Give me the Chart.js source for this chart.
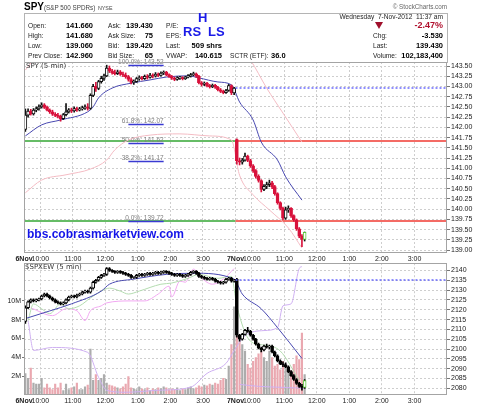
<!DOCTYPE html>
<html>
<head>
<meta charset="utf-8">
<script src="https://cdn.jsdelivr.net/npm/chart.js@4.4.1/dist/chart.umd.min.js"></script>
<style>
body{margin:0;background:#fff;font-family:"Liberation Sans",Arial,sans-serif;}
#wrap{position:relative;width:480px;height:406px;overflow:hidden;background:#fff}
#wrap canvas{position:absolute;left:0}
.t{position:absolute;white-space:nowrap;line-height:10px;font-size:6.6px;color:#222}
.v{position:absolute;white-space:nowrap;line-height:10px;font-size:7.5px;font-weight:bold;color:#000;text-align:right}
.big{position:absolute;white-space:nowrap;line-height:13px;font-size:13px;font-weight:bold;color:#1a1ae8}
.box{position:absolute;left:24px;top:13px;width:422px;height:49px;border:1px solid #b4b4b4;border-bottom:none}
.pan{position:absolute;font-family:"DejaVu Sans",sans-serif;font-size:7px;line-height:10px;color:#333}
</style>
</head>
<body>
<div id="wrap">
  <canvas id="spyChart" width="480" height="264" style="top:0"></canvas>
  <canvas id="ewChart" width="480" height="148" style="top:258px"></canvas>

  <div class="box"></div>
  <div class="t" style="left:24px;top:1.5px;font-size:10px;font-weight:bold;color:#000">SPY</div>
  <div class="t" style="left:44px;top:2.6px;font-size:6.3px;color:#444">(S&amp;P 500 SPDRs)</div>
  <div class="t" style="left:98px;top:3.2px;font-size:5.3px;color:#444">NYSE</div>
  <div class="t" style="right:33px;top:2.3px;font-size:6.3px;color:#666">© StockCharts.com</div>

  <div class="t" style="left:28px;top:21px">Open:</div>
  <div class="t" style="left:28px;top:31px">High:</div>
  <div class="t" style="left:28px;top:41px">Low:</div>
  <div class="t" style="left:28px;top:51px">Prev Close:</div>
  <div class="v" style="right:387px;top:21px">141.660</div>
  <div class="v" style="right:387px;top:31px">141.680</div>
  <div class="v" style="right:387px;top:41px">139.060</div>
  <div class="v" style="right:387px;top:51px">142.960</div>

  <div class="t" style="left:108px;top:21px">Ask:</div>
  <div class="t" style="left:108px;top:31px">Ask Size:</div>
  <div class="t" style="left:108px;top:41px">Bid:</div>
  <div class="t" style="left:108px;top:51px">Bid Size:</div>
  <div class="v" style="right:327px;top:21px">139.430</div>
  <div class="v" style="right:327px;top:31px">75</div>
  <div class="v" style="right:327px;top:41px">139.420</div>
  <div class="v" style="right:327px;top:51px">65</div>

  <div class="t" style="left:166px;top:21px">P/E:</div>
  <div class="t" style="left:166px;top:31px">EPS:</div>
  <div class="t" style="left:166px;top:41px">Last:</div>
  <div class="t" style="left:166px;top:51px">VWAP:</div>
  <div class="v" style="right:258px;top:41px">509 shrs</div>
  <div class="v" style="right:258px;top:51px">140.615</div>
  <div class="t" style="left:230px;top:51px">SCTR (ETF):</div>
  <div class="v" style="left:271px;top:51px;text-align:left">36.0</div>

  <div class="big" style="left:198px;top:11.3px">H</div>
  <div class="big" style="left:183px;top:25.3px">RS</div>
  <div class="big" style="left:208px;top:25.3px">LS</div>

  <div class="t" style="right:37px;top:12px">Wednesday&nbsp; 7-Nov-2012&nbsp; 11:37 am</div>
  <div style="position:absolute;left:375px;top:22px;width:0;height:0;border-left:4px solid transparent;border-right:4px solid transparent;border-top:7px solid #a0102c"></div>
  <div class="v" style="right:37px;top:20.4px;font-size:9px;color:#b0102e">-2.47%</div>
  <div class="t" style="left:373px;top:31px">Chg:</div>
  <div class="t" style="left:373px;top:41px">Last:</div>
  <div class="t" style="left:373px;top:51px">Volume:</div>
  <div class="v" style="right:37px;top:31px">-3.530</div>
  <div class="v" style="right:37px;top:41px">139.430</div>
  <div class="v" style="right:37px;top:51px">102,183,400</div>

  <div class="pan" style="left:26px;top:61px">SPY (5 min)</div>
  <div class="pan" style="left:25px;top:261.5px">$SPXEW (5 min)</div>
  <div style="position:absolute;left:27px;top:228px;font-size:12px;line-height:12px;font-weight:bold;color:#1414e8">bbs.cobrasmarketview.com</div>
</div>

<script>
// 5-min bars: 6 Nov (78 bars, 9:30-16:00) then 7 Nov up to 11:35
const spyOpen = [
  141.95,142.30,142.40,142.33,142.42,142.45,142.50,142.55,142.49,142.42,142.38,142.32,142.29,
  142.27,142.21,142.31,142.38,142.43,142.40,142.46,142.42,142.45,142.48,142.50,142.46,142.78,
  143.00,142.95,143.12,143.20,143.26,143.45,143.38,143.34,143.31,143.36,143.30,143.28,143.24,
  143.17,143.10,143.12,143.19,143.22,143.19,143.25,143.22,143.28,143.25,143.30,143.27,143.33,
  143.35,143.29,143.24,143.20,143.17,143.21,143.22,143.19,143.23,143.26,143.29,143.31,143.25,
  143.09,143.05,143.08,143.02,142.99,143.03,142.98,142.92,142.88,142.85,142.90,143.02,142.84,
  141.70,141.18,141.15,141.20,141.30,141.19,141.06,140.94,140.80,140.70,140.48,140.56,140.60,
  140.64,140.55,140.38,140.16,140.02,139.78,139.98,140.02,139.84,139.74,139.52,139.34,139.26
];
const spyHigh = [
  142.45,142.45,142.44,142.46,142.50,142.55,142.60,142.58,142.52,142.45,142.42,142.36,142.34,
  142.30,142.34,142.58,142.46,142.47,142.50,142.49,142.49,142.52,142.55,142.58,142.82,143.05,
  143.10,143.15,143.25,143.30,143.52,143.50,143.42,143.40,143.40,143.39,143.35,143.33,143.27,
  143.21,143.16,143.22,143.26,143.25,143.28,143.29,143.32,143.31,143.34,143.33,143.36,143.38,
  143.37,143.31,143.27,143.23,143.24,143.25,143.24,143.25,143.29,143.32,143.35,143.33,143.27,
  143.12,143.11,143.10,143.05,143.06,143.05,143.00,142.95,142.91,142.93,143.05,143.04,142.98,
  141.72,141.25,141.24,141.37,141.32,141.22,141.09,140.97,140.84,140.72,140.60,140.66,140.71,
  140.68,140.58,140.40,140.18,140.05,140.05,140.08,140.04,139.86,139.76,139.55,139.38,139.44
];
const spyLow = [
  141.90,142.25,142.30,142.30,142.38,142.42,142.47,142.46,142.40,142.34,142.29,142.26,142.23,
  142.15,142.19,142.28,142.35,142.36,142.37,142.39,142.40,142.42,142.44,142.42,142.44,142.75,
  142.88,142.92,143.08,143.15,143.24,143.34,143.30,143.28,143.29,143.27,143.24,143.20,143.13,
  143.06,143.05,143.10,143.15,143.16,143.17,143.18,143.20,143.21,143.23,143.24,143.25,143.29,
  143.26,143.22,143.17,143.14,143.15,143.17,143.16,143.17,143.21,143.23,143.26,143.22,143.06,
  143.01,143.02,142.99,142.96,142.97,142.95,142.89,142.85,142.82,142.83,142.88,142.80,142.80,
  141.10,141.08,141.10,141.17,141.16,141.02,140.90,140.76,140.66,140.42,140.45,140.50,140.55,
  140.50,140.34,140.12,139.98,139.74,139.75,139.92,139.80,139.70,139.48,139.30,139.08,139.22
];
const spyClose = [
  142.30,142.40,142.33,142.42,142.45,142.50,142.55,142.49,142.42,142.38,142.32,142.29,142.27,
  142.21,142.31,142.38,142.43,142.40,142.46,142.42,142.45,142.48,142.50,142.46,142.78,143.00,
  142.95,143.12,143.20,143.26,143.45,143.38,143.34,143.31,143.36,143.30,143.28,143.24,143.17,
  143.10,143.12,143.19,143.22,143.19,143.25,143.22,143.28,143.25,143.30,143.27,143.33,143.35,
  143.29,143.24,143.20,143.17,143.21,143.22,143.19,143.23,143.26,143.29,143.31,143.25,143.09,
  143.05,143.08,143.02,142.99,143.03,142.98,142.92,142.88,142.85,142.90,143.02,142.84,142.96,
  141.18,141.15,141.20,141.30,141.19,141.06,140.94,140.80,140.70,140.48,140.56,140.60,140.64,
  140.55,140.38,140.16,140.02,139.78,139.98,140.02,139.84,139.74,139.52,139.34,139.26,139.43
];
// SPY volume, millions of shares per bar
const spyVolM = [
  2.3,1.8,2.9,1.3,1.2,1.2,1.8,0.8,1.2,0.8,0.6,1.2,0.8,
  1.3,0.5,1.2,0.6,0.8,0.9,1.3,0.6,0.6,0.9,1.1,4.9,1.6,
  2.2,1.6,1.8,2.2,1.3,1.1,1.0,0.9,0.8,0.7,0.9,1.2,2.0,
  0.8,0.7,0.6,0.9,0.7,0.6,0.8,0.5,0.7,0.6,0.8,0.7,0.9,
  0.8,0.6,0.7,0.6,0.8,0.5,0.7,0.6,0.8,0.9,0.7,0.8,1.0,
  0.9,1.1,1.0,1.2,1.1,1.3,1.2,1.6,1.8,1.7,3.1,5.4,9.4,
  6.3,5.7,5.4,4.7,3.3,2.9,3.6,4.0,4.4,4.7,4.0,3.6,4.7,
  4.0,3.1,3.3,2.7,3.6,3.3,3.0,2.6,3.3,4.2,3.8,6.6,2.2
];

// $SPXEW 5-min bars
const ewOpen = [
  2114,2121,2124,2125,2124.5,2125,2125.5,2127,2128,2127,2126,2125,2124,
  2123.5,2123,2123.5,2125,2126.5,2127,2126.5,2127.5,2128,2129,2129.5,2129,2131,
  2134,2135,2136.5,2137.5,2138,2141,2140,2139.5,2139,2139.5,2139,2138.5,2138,
  2137.5,2136.5,2136.5,2137.5,2138,2137.5,2138,2138.5,2138,2138.5,2139,2138.5,2139,
  2139.5,2139,2138.5,2138,2137.5,2138,2137.5,2137,2137.5,2138,2139,2139.5,2138.5,
  2137,2136.5,2136,2135.5,2136,2135.5,2134.5,2134,2133.5,2134,2135.5,2136,2134.5,
  2135.5,2107,2105,2107.5,2109.5,2109,2107,2105,2102.5,2100.5,2099.5,2101.5,2101,
  2101.5,2098.5,2096.5,2094,2092.5,2092,2091,2088.5,2086.5,2084.5,2082.5,2081,2080.5
];
const ewHigh = [
  2122,2124.5,2125.5,2125.5,2125.5,2126,2127.5,2128.5,2128.5,2127.5,2126.5,2125.5,2124.5,
  2124,2124,2125.5,2127,2127.5,2127.5,2128,2128.5,2129.5,2130,2130,2131.5,2134.5,
  2135.5,2137,2138,2138.5,2141.5,2141.5,2140.5,2140,2140,2140,2139.5,2139,2138.5,
  2138,2137,2138,2138.5,2138.5,2138.5,2139,2139,2139,2139.5,2139.5,2139.5,2140,
  2140,2139.5,2139,2138.5,2138.5,2138.5,2138,2138,2138.5,2139.5,2140,2140,2139,
  2137.5,2137,2136.5,2136.5,2136.5,2136,2135,2134.5,2134.5,2136,2136.5,2136.5,2135.5,
  2136,2107.5,2108,2110,2111,2109.5,2107.5,2105.5,2103,2101,2102,2102.5,2102,
  2102,2099,2097,2094.5,2093.5,2093,2091.5,2089,2087,2085,2083,2082,2084.5
];
const ewLow = [
  2113,2120.5,2123.5,2124,2124,2124.5,2125,2126.5,2126.5,2125.5,2124.5,2123.5,2123,
  2122.5,2122.5,2123,2124.5,2126,2126,2126,2127,2127.5,2128.5,2128.5,2128.5,2130.5,
  2133.5,2134.5,2136,2137,2137.5,2139.5,2139,2138.5,2138.5,2138.5,2138,2137.5,2137,
  2136,2136,2136,2137,2137,2137,2137.5,2137.5,2137.5,2138,2138,2138,2138.5,
  2138.5,2138,2137.5,2137,2137,2137,2136.5,2136.5,2137,2137.5,2138.5,2138,2136.5,
  2136,2135.5,2135,2135,2135,2134,2133.5,2133,2133,2133.5,2135,2134,2134,
  2106,2104,2104.5,2107,2108.5,2106.5,2104.5,2102,2100,2098.5,2099,2100.5,2100,
  2098,2096,2093.5,2092,2091,2090.5,2088,2086,2084,2082,2080.5,2079,2080
];
const ewClose = [
  2121,2124,2125,2124.5,2125,2125.5,2127,2128,2127,2126,2125,2124,2123.5,
  2123,2123.5,2125,2126.5,2127,2126.5,2127.5,2128,2129,2129.5,2129,2131,2134,
  2135,2136.5,2137.5,2138,2141,2140,2139.5,2139,2139.5,2139,2138.5,2138,2137.5,
  2136.5,2136.5,2137.5,2138,2137.5,2138,2138.5,2138,2138.5,2139,2138.5,2139,2139.5,
  2139,2138.5,2138,2137.5,2138,2137.5,2137,2137.5,2138,2139,2139.5,2138.5,2137,
  2136.5,2136,2135.5,2136,2135.5,2134.5,2134,2133.5,2134,2135.5,2136,2134.5,2135,
  2107,2105,2107.5,2109.5,2109,2107,2105,2102.5,2100.5,2099.5,2101.5,2101,2101.5,
  2098.5,2096.5,2094,2092.5,2092,2091,2088.5,2086.5,2084.5,2082.5,2081,2080.5,2084
];

// overlay lines: bar index -> value
const spyMaAt = [0,6,13,23,25,27,32,39,46,52,60,64,71,76,79,84,87,93,96,102];
const spyMa = [141.79,142.06,142.18,142.38,142.50,142.72,142.96,143.08,143.16,143.23,143.26,143.21,143.11,143.04,142.62,142.18,141.64,141.20,140.79,140.22];
const spyLowerAt = [0,6,15,24,30,33,38,46,57,68,76,79,84,90,97,102];
const spyLower = [140.40,140.71,140.84,140.98,141.20,141.45,141.69,141.81,141.84,141.79,141.69,140.83,140.35,139.98,139.54,139.05];
const spyUpperAt = [0,3,4,80,83,89,95,102];
const spyUpper = [143.40,143.65,null,143.90,143.65,142.96,142.35,141.64];

const ewMaAt = [0,9,17,28,31,40,52,62,77,80,87,93,102];
const ewMa = [2115.5,2119.4,2123,2129.5,2133,2135.6,2138,2138.6,2135.6,2128,2120.5,2110.9,2095.2];
const ewGreenAt = [1,3,6,9,13,16,20,24,28,31,35,38,42,50,54,60,64,71,76,78,83,88,94,101];
const ewGreen = [2114.5,2123,2120.5,2118,2123,2120.5,2122,2126,2129.5,2131,2129.5,2128,2129.5,2133,2133.6,2136,2138,2136,2137,2122,2104,2102,2099,2084];
const ewMagAt = [2,10,15,19,22,24,28,30,39,44,49,53,54,57,59,62,65,69,73,77];
const ewMag = [2121,2117,2120.5,2119.5,2114.5,2119.5,2122,2123.5,2124.5,2124.5,2128,2132,2126.5,2134.6,2134,2140.7,2136.1,2133,2135.6,2141];
const ewVioAt = [1,3,10,23,27,30,37,49,61,67,74,77,81,88,93,95,98,101,102];
const ewVio = [2114.5,2099.3,2100.8,2098.3,2085.6,2079,2078,2079,2080.6,2087.6,2092.7,2099.2,2106.8,2109.4,2110.9,2122,2123,2141,2142];
const ewLavAt = [79,86,95,103];
const ewLav = [2082,2081,2080.5,2080];

// levels and tick labels
const fibPct = ['100.0%','61.8%','50.0%','38.2%','0.0%'];
const fibLevels = [143.52, 142.07, 141.62, 141.17, 139.72];
const lineLevels = [141.67, 139.72];
const spyPrevClose = 142.96;
const ewPrevClose = 2135;
const spyTicks = [139.00,139.25,139.50,139.75,140.00,140.25,140.50,140.75,141.00,141.25,141.50,141.75,142.00,142.25,142.50,142.75,143.00,143.25,143.50];
const ewTicks = [2080,2085,2090,2095,2100,2105,2110,2115,2120,2125,2130,2135,2140];
const volTicks = [2,4,6,8,10];
const dayNames = ['6Nov','7Nov'];
const hourLabels = ['10:00','11:00','12:00','1:00','2:00','3:00'];
const hourMinutes = [30,90,150,210,270,330];   // minutes after the 9:30 open

const FONT = '"Liberation Sans", Arial, sans-serif';
const BARS = 78;
const RED = '#d8123c';
const GRID = '#cecece';
Chart.defaults.font.family = FONT;
Chart.defaults.font.size = 7;

function barPos(day, minutes){ return day * BARS + minutes / 5 - 0.5; }
const xTicks = [];
dayNames.forEach((d, k) => {
  xTicks.push({value: barPos(k, 0), label: d, bold: true});
  hourLabels.forEach((h, j) => xTicks.push({value: barPos(k, hourMinutes[j]), label: h, bold: false}));
});

function timeAxis(){
  return {
    type: 'linear', min: -0.5, max: 2 * BARS - 0.5, offset: false,
    afterBuildTicks: s => { s.ticks = xTicks.map(t => ({value: t.value})); },
    afterFit: s => { s.height = 11; },
    ticks: {
      autoSkip: false, maxRotation: 0, minRotation: 0, padding: 2, color: '#222',
      callback: (v, i) => xTicks[i] ? xTicks[i].label : '',
      font: c => ({family: FONT, size: 7, weight: (xTicks[c.index] && xTicks[c.index].bold) ? 'bold' : 'normal'})
    },
    grid: { color: GRID, drawTicks: false, offset: false },
    border: { display: false, dash: [2, 2] }
  };
}

function priceAxis(min, max, ticks, digits){
  return {
    position: 'right', min: min, max: max,
    afterBuildTicks: s => { s.ticks = ticks.map(v => ({value: v})); },
    afterFit: s => { s.width = 33; },
    ticks: { autoSkip: false, callback: v => v.toFixed(digits), color: '#222', padding: 1, font: {family: FONT, size: 7} },
    grid: { color: GRID, tickLength: 3, tickColor: '#777' },
    border: { display: false, dash: [2, 2] }
  };
}

function candles(o, h, l, c, down, up){
  const last = c.length - 1;
  const isUp = i => c[i] >= o[i];
  return [
    { type: 'bar', yAxisID: 'y', order: 1, grouped: false, barThickness: 3, minBarLength: 1,
      borderSkipped: false, borderWidth: 1,
      data: c.map((v, i) => ({x: i, y: [o[i], v]})),
      backgroundColor: ctx => isUp(ctx.dataIndex) ? '#ffffff' : down,
      borderColor: ctx => ctx.dataIndex === last ? '#5cc838' : (isUp(ctx.dataIndex) ? up : down) },
    { type: 'bar', yAxisID: 'y', order: 2, grouped: false, barThickness: 1, borderWidth: 0,
      data: c.map((v, i) => ({x: i, y: [l[i], h[i]]})),
      backgroundColor: ctx => isUp(ctx.dataIndex) ? up : down }
  ];
}

function line(at, vals, color, order){
  return { type: 'line', yAxisID: 'y', order: order || 3, data: at.map((x, k) => ({x: x, y: vals[k]})),
    borderColor: color, borderWidth: 1, pointRadius: 0, cubicInterpolationMode: 'monotone', spanGaps: false };
}

function hline(ctx, x0, x1, y){
  ctx.beginPath(); ctx.moveTo(x0, y); ctx.lineTo(x1, y); ctx.stroke();
}

const frame = {
  id: 'frame',
  afterDatasetsDraw(chart){
    const a = chart.chartArea, ctx = chart.ctx;
    ctx.save();
    ctx.strokeStyle = '#a4a4a4'; ctx.lineWidth = 1;
    ctx.strokeRect(Math.round(a.left) + 0.5, Math.round(a.top) + 0.5, Math.round(a.width) - 1, Math.round(a.height) - 1);
    ctx.restore();
  }
};

function prevCloseLine(level){
  return {
    id: 'prev',
    afterDatasetsDraw(chart){
      const {ctx, chartArea: a, scales: {x, y}} = chart;
      ctx.save();
      ctx.strokeStyle = '#6a6aff'; ctx.lineWidth = 1.5; ctx.setLineDash([2, 2]);
      hline(ctx, x.getPixelForValue(barPos(1, 0)), a.right, Math.round(y.getPixelForValue(level)));
      ctx.restore();
    }
  };
}

const fibs = {
  id: 'fibs',
  beforeDatasetsDraw(chart){
    const {ctx, chartArea: a, scales: {x, y}} = chart;
    const split = x.getPixelForValue(barPos(1, 0));
    ctx.save();
    ctx.beginPath(); ctx.rect(a.left, a.top - 6, a.width, a.height + 6); ctx.clip();
    ctx.setLineDash([]);
    ctx.lineWidth = 1.5;
    lineLevels.forEach(v => {
      const py = Math.round(y.getPixelForValue(v));
      ctx.strokeStyle = '#33a633'; hline(ctx, a.left, split, py);
      ctx.strokeStyle = '#f03a32'; hline(ctx, split, a.right, py);
    });
    const fx0 = x.getPixelForValue(38), fx1 = x.getPixelForValue(51);
    ctx.font = '6.5px ' + FONT; ctx.textAlign = 'right'; ctx.textBaseline = 'alphabetic';
    fibLevels.forEach((v, k) => {
      const py = Math.round(y.getPixelForValue(v)) + 0.5;
      ctx.fillStyle = '#808080';
      ctx.fillText(fibPct[k] + ': ' + v.toFixed(2), fx1, py - 2);
      ctx.strokeStyle = '#3a3ad2'; ctx.lineWidth = 1.5;
      hline(ctx, fx0, fx1, py);
    });
    ctx.restore();
  }
};

const baseOpts = { responsive: false, animation: false, devicePixelRatio: 1, events: [],
  plugins: { legend: { display: false }, tooltip: { enabled: false } } };

new Chart(document.getElementById('spyChart'), {
  type: 'bar',
  data: {
    datasets: [
      ...candles(spyOpen, spyHigh, spyLow, spyClose, RED, '#111111'),
      line(spyMaAt, spyMa, '#4848b0', 3),
      line(spyLowerAt, spyLower, '#f4bcc4', 4),
      line(spyUpperAt, spyUpper, '#f4bcc4', 4)
    ]
  },
  options: Object.assign({}, baseOpts, {
    layout: { padding: { top: 62, left: 24, right: 0, bottom: 0 } },
    scales: { x: timeAxis(), y: priceAxis(138.927, 143.598, spyTicks, 2) }
  }),
  plugins: [fibs, prevCloseLine(spyPrevClose), frame]
});

const ewVolume = {
  type: 'bar', yAxisID: 'yv', order: 10, grouped: false, barPercentage: 0.8, categoryPercentage: 1,
  data: spyVolM.map((v, i) => ({x: i, y: v})),
  backgroundColor: ctx => spyClose[ctx.dataIndex] >= spyOpen[ctx.dataIndex] ? '#acacac' : '#eaa8b0'
};

new Chart(document.getElementById('ewChart'), {
  type: 'bar',
  data: {
    datasets: [
      ...candles(ewOpen, ewHigh, ewLow, ewClose, '#000000', '#000000'),
      line(ewMaAt, ewMa, '#4848b0', 3),
      line(ewGreenAt, ewGreen, '#b4dcb0', 5),
      line(ewMagAt, ewMag, '#f2a8f2', 6),
      line(ewVioAt, ewVio, '#cfb0f2', 7),
      line(ewLavAt, ewLav, '#cfb0f2', 7),
      ewVolume
    ]
  },
  options: Object.assign({}, baseOpts, {
    layout: { padding: { top: 4, left: 0, right: 0, bottom: 0 } },
    scales: {
      x: timeAxis(),
      y: priceAxis(2076.6, 2143.7, ewTicks, 0),
      yv: {
        position: 'left', min: 0, max: 14,
        afterBuildTicks: s => { s.ticks = volTicks.map(v => ({value: v})); },
        afterFit: s => { s.width = 24; },
        ticks: { autoSkip: false, callback: v => v + 'M', color: '#222', padding: 1, font: {family: FONT, size: 7} },
        grid: { drawOnChartArea: false, tickLength: 2, tickColor: '#777' },
        border: { display: false }
      }
    }
  }),
  plugins: [prevCloseLine(ewPrevClose), frame]
});
</script>
</body>
</html>
